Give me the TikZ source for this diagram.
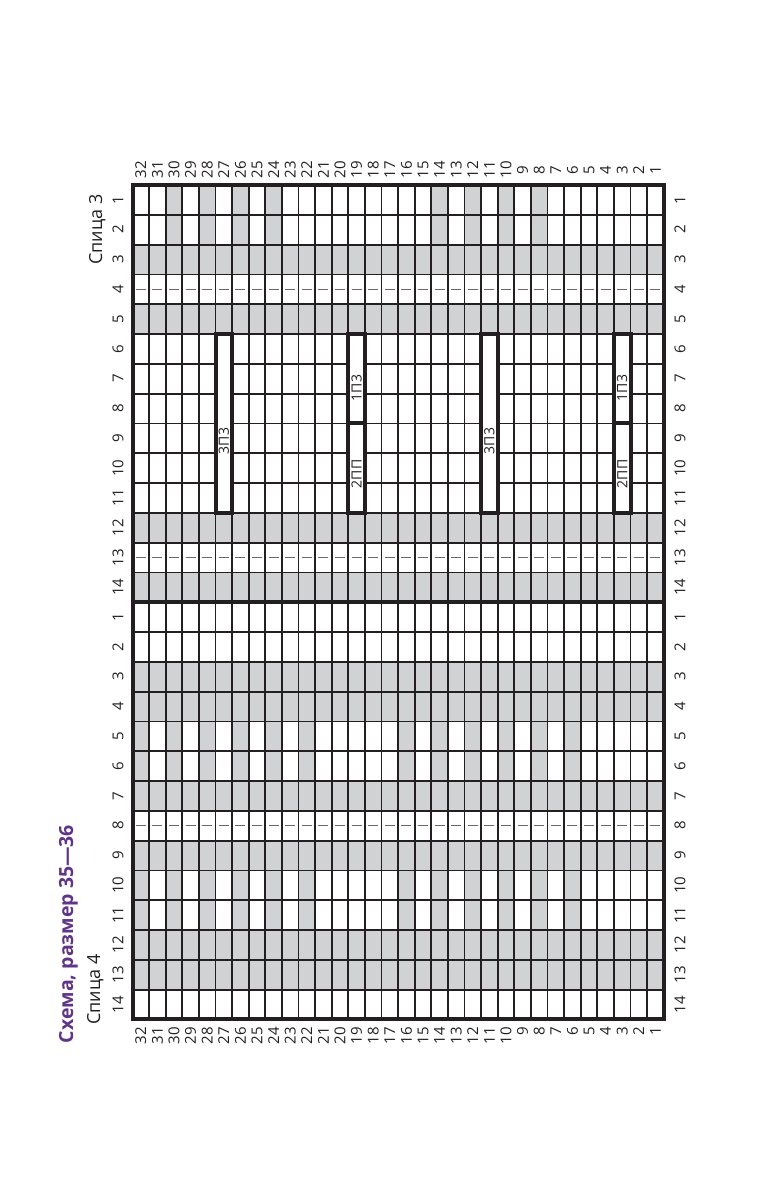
\documentclass[tikz,border=0pt]{standalone}
\usepackage{fontspec}
\setmainfont{Open Sans}
\definecolor{ink}{RGB}{35,31,32}
\definecolor{cellgray}{RGB}{209,210,212}
\definecolor{dashgray}{RGB}{105,105,108}
\definecolor{titlec}{RGB}{96,52,134}
\begin{document}
\begin{tikzpicture}[x=1pt,y=-1pt,
  gridline/.style={line width=1.8pt, draw=ink},
  frame/.style={line width=4pt, draw=ink},
  barbox/.style={line width=4pt, draw=ink, fill=white},
  dashmark/.style={line width=1.1pt, draw=dashgray},
  numlab/.style={font=\fontsize{15}{17}\selectfont, text=ink, inner sep=0pt, rotate=90},
  barlab/.style={font=\fontsize{14}{16}\selectfont, text=ink, inner sep=0pt, rotate=90},
  spica/.style={font=\fontsize{18}{20}\selectfont, text=ink, inner sep=0pt, rotate=90, anchor=base},
  titlelab/.style={font=\bfseries\fontsize{19.5}{22}\selectfont, text=titlec, inner sep=0pt, rotate=90, anchor=base}]
\useasboundingbox (0,0) rectangle (765,1190);
\fill[white] (0,0) rectangle (765,1190);
\def\xa{132.5}
\def\cw{16.6}
\def\ya{185}
\def\rh{29.8}
% ---- full shaded rows ----
\foreach \k in {2,4,11,13,16,17,20,22,25,26} {
  \fill[cellgray] (\xa,{\ya+\k*\rh}) rectangle ++({32*\cw},\rh);
}
% ---- top pattern rows 1-2 ----
\foreach \c in {30,28,26,24,14,12,10,8} {
  \fill[cellgray] ({\xa+(32-\c)*\cw},\ya) rectangle ++(\cw,{2*\rh});
}
% ---- bottom pattern rows 5-6 and 10-11 ----
\foreach \c in {32,30,28,26,24,22,16,14,12,10,8,6} {
  \fill[cellgray] ({\xa+(32-\c)*\cw},{\ya+18*\rh}) rectangle ++(\cw,{2*\rh});
  \fill[cellgray] ({\xa+(32-\c)*\cw},{\ya+23*\rh}) rectangle ++(\cw,{2*\rh});
}
% ---- dashed rows ----
\foreach \k in {3,12,21} {
  \foreach \i in {0,...,31} {
    \draw[dashmark] ({\xa+(\i+0.2)*\cw},{\ya+(\k+0.5)*\rh}) -- ++({0.6*\cw},0);
  }
}
% ---- grid lines ----
\foreach \k in {1,...,27} {
  \draw[gridline] (\xa,{\ya+\k*\rh}) -- ++({32*\cw},0);
}
\foreach \i in {1,...,31} {
  \draw[gridline] ({\xa+\i*\cw},\ya) -- ++(0,{28*\rh});
}
% ---- frame and section separator ----
\draw[frame] (\xa,\ya) rectangle ++({32*\cw},{28*\rh});
\draw[frame] (\xa,{\ya+14*\rh}) -- ++({32*\cw},0);
% ---- bars ----
\foreach \c in {27,11} {
  \draw[barbox] ({\xa+(32-\c)*\cw},{\ya+5*\rh}) rectangle ++(\cw,{6*\rh});
  \node[barlab] (b3p\c) at ({\xa+(32-\c+0.5)*\cw},441) {3П3};
}
\foreach \c in {19,3} {
  \draw[barbox] ({\xa+(32-\c)*\cw},{\ya+5*\rh}) rectangle ++(\cw,{3*\rh});
  \draw[barbox] ({\xa+(32-\c)*\cw},{\ya+8*\rh}) rectangle ++(\cw,{3*\rh});
  \node[barlab] (b1p\c) at ({\xa+(32-\c+0.5)*\cw},388) {1П3};
  \node[barlab] (b2p\c) at ({\xa+(32-\c+0.5)*\cw},474) {2ПП};
}
% ---- column labels ----
\foreach \c in {1,...,32} {
  \node[numlab] (ct\c) at ({\xa+(32-\c+0.5)*\cw},170) {\c};
  \node[numlab, anchor=east] (cb\c) at ({\xa+(32-\c+0.5)*\cw},1027) {\c};
}
% ---- row labels ----
\foreach \r in {1,...,14} {
  \node[numlab] (lt\r) at (118,{\ya+(\r-0.5)*\rh}) {\r};
  \node[numlab] (rt\r) at (680,{\ya+(\r-0.5)*\rh}) {\r};
  \node[numlab] (lb\r) at (118,{\ya+(\r+13.5)*\rh}) {\r};
  \node[numlab] (rb\r) at (680,{\ya+(\r+13.5)*\rh}) {\r};
}
% ---- side texts ----
\node[spica] (sp3) at (102,229.5) {Спица 3};
\node[spica] (sp4) at (100,989.5) {Спица 4};
\node[titlelab] (ttl) at (73,934) {Схема, размер 35—36};
\end{tikzpicture}
\end{document}
